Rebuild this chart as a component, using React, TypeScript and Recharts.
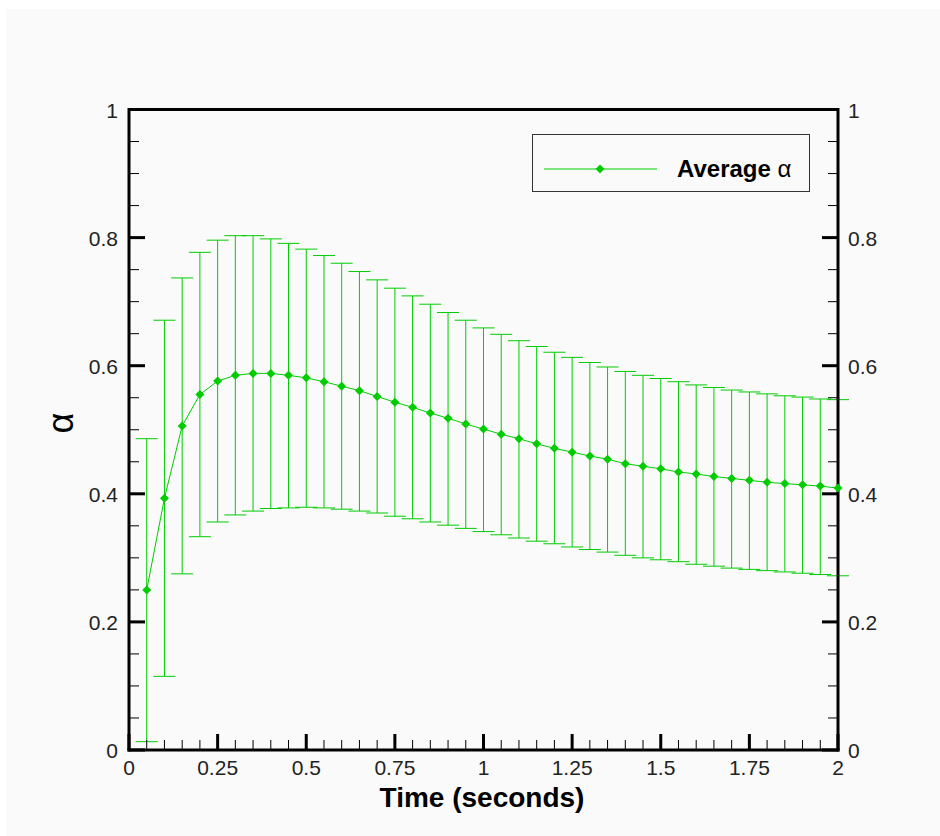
import { ComposedChart, Line, XAxis, YAxis, ErrorBar, ReferenceLine, Legend } from 'recharts';

// time in seconds
const times = [
  0.05, 0.1, 0.15, 0.2, 0.25, 0.3, 0.35, 0.4, 0.45, 0.5,
  0.55, 0.6, 0.65, 0.7, 0.75, 0.8, 0.85, 0.9, 0.95, 1.0,
  1.05, 1.1, 1.15, 1.2, 1.25, 1.3, 1.35, 1.4, 1.45, 1.5,
  1.55, 1.6, 1.65, 1.7, 1.75, 1.8, 1.85, 1.9, 1.95, 2.0,
];

const avgAlpha = [
  0.25, 0.393, 0.506, 0.555, 0.576, 0.585, 0.588, 0.588, 0.585, 0.581,
  0.575, 0.568, 0.561, 0.552, 0.543, 0.535, 0.526, 0.518, 0.509, 0.501,
  0.493, 0.486, 0.478, 0.471, 0.465, 0.459, 0.454, 0.447, 0.443, 0.439,
  0.434, 0.431, 0.427, 0.424, 0.421, 0.418, 0.416, 0.414, 0.412, 0.409,
];

const upperAlpha = [
  0.486, 0.671, 0.737, 0.777, 0.796, 0.803, 0.803, 0.798, 0.791, 0.782,
  0.772, 0.76, 0.747, 0.734, 0.721, 0.709, 0.696, 0.683, 0.671, 0.659,
  0.649, 0.639, 0.63, 0.621, 0.613, 0.605, 0.598, 0.591, 0.585, 0.58,
  0.575, 0.57, 0.566, 0.562, 0.559, 0.556, 0.553, 0.551, 0.548, 0.547,
];

const lowerAlpha = [
  0.013, 0.115, 0.275, 0.333, 0.356, 0.367, 0.373, 0.377, 0.378, 0.379,
  0.378, 0.376, 0.373, 0.37, 0.365, 0.361, 0.356, 0.351, 0.346, 0.341,
  0.336, 0.331, 0.326, 0.322, 0.317, 0.313, 0.309, 0.304, 0.3, 0.297,
  0.294, 0.29, 0.287, 0.284, 0.282, 0.28, 0.278, 0.276, 0.274, 0.272,
];

const xMajorTicks = [0, 0.25, 0.5, 0.75, 1, 1.25, 1.5, 1.75, 2];
const xAllTicks = [
  0, 0.05, 0.1, 0.15, 0.2, 0.25, 0.3, 0.35, 0.4, 0.45, 0.5,
  0.55, 0.6, 0.65, 0.7, 0.75, 0.8, 0.85, 0.9, 0.95, 1,
  1.05, 1.1, 1.15, 1.2, 1.25, 1.3, 1.35, 1.4, 1.45, 1.5,
  1.55, 1.6, 1.65, 1.7, 1.75, 1.8, 1.85, 1.9, 1.95, 2,
];
const yMajorTicks = [0, 0.2, 0.4, 0.6, 0.8, 1];
const yAllTicks = [
  0, 0.05, 0.1, 0.15, 0.2, 0.25, 0.3, 0.35, 0.4, 0.45, 0.5,
  0.55, 0.6, 0.65, 0.7, 0.75, 0.8, 0.85, 0.9, 0.95, 1,
];

const GREEN = '#00cc00';
const FONT = '"Liberation Sans", Arial, Helvetica, sans-serif';
const TICK = '#000';

// plot frame (follows from the chart margins and axis sizes below)
const AXIS_LEFT = 129;
const AXIS_RIGHT = 838;
const AXIS_BOTTOM = 750;

const data = times.map((t, i) => ({
  t,
  avg: avgAlpha[i],
  err: [avgAlpha[i] - lowerAlpha[i], upperAlpha[i] - avgAlpha[i]],
}));

const isMajor = (list: number[], v: number) => list.some(m => Math.abs(m - v) < 1e-6);

function BottomTick(props: any) {
  const { x, payload } = props;
  const major = isMajor(xMajorTicks, payload.value);
  const y = AXIS_BOTTOM;
  return (
    <g>
      <path d={`M${x},${y}V${y - (major ? 16 : 10)}`} stroke={TICK} strokeWidth={major ? 3 : 1} fill="none" />
      {major && (
        <text x={x} y={y + 25} textAnchor="middle" fontSize={21} fontFamily={FONT} fill="#222">
          {String(payload.value)}
        </text>
      )}
    </g>
  );
}

function LeftTick(props: any) {
  const { y, payload } = props;
  const major = isMajor(yMajorTicks, payload.value);
  const x = AXIS_LEFT;
  return (
    <g>
      <path d={`M${x},${y}H${x + (major ? 16 : 10)}`} stroke={TICK} strokeWidth={major ? 3 : 1} fill="none" />
      {major && (
        <text x={x - 11} y={y + 8} textAnchor="end" fontSize={21} fontFamily={FONT} fill="#222">
          {String(payload.value)}
        </text>
      )}
    </g>
  );
}

function RightTick(props: any) {
  const { y, payload } = props;
  const major = isMajor(yMajorTicks, payload.value);
  const x = AXIS_RIGHT;
  return (
    <g>
      <path d={`M${x},${y}H${x - (major ? 16 : 10)}`} stroke={TICK} strokeWidth={major ? 3 : 1} fill="none" />
      {major && (
        <text x={x + 10} y={y + 8} textAnchor="start" fontSize={21} fontFamily={FONT} fill="#222">
          {String(payload.value)}
        </text>
      )}
    </g>
  );
}

function XTitle() {
  return (
    <text x={482} y={807} textAnchor="middle" fontSize={28} fontWeight="bold" fontFamily={FONT} fill="#000">
      Time (seconds)
    </text>
  );
}

function YTitle() {
  return (
    <text x={73} y={423} transform="rotate(-90, 73, 423)" textAnchor="middle" fontSize={36} fontFamily={FONT} fill="#000">
      α
    </text>
  );
}

function Diamond(props: any) {
  const { cx, cy, index } = props;
  if (cx == null || cy == null) return <g key={index} />;
  return <path key={index} d={`M${cx},${cy - 4.5}L${cx + 4.5},${cy}L${cx},${cy + 4.5}L${cx - 4.5},${cy}Z`} fill={GREEN} />;
}

function LegendBox() {
  return (
    <svg width={280} height={60} style={{ display: 'block' }}>
      <rect x={1.5} y={1.5} width={277} height={57} fill="#fafafa" stroke="#333" strokeWidth={1} />
      <line x1={13} x2={126} y1={36} y2={36} stroke={GREEN} strokeWidth={1} />
      <path d="M69,31.5L73.5,36L69,40.5L64.5,36Z" fill={GREEN} />
      <text x={146} y={44} fontSize={24} fontFamily={FONT} fill="#000">
        <tspan fontWeight="bold">Average</tspan>
        <tspan> α</tspan>
      </text>
    </svg>
  );
}

export default function App() {
  return (
    <div style={{ position: 'absolute', left: 0, top: 0, width: 940, height: 836, background: '#fff' }}>
      <div style={{ position: 'absolute', left: 6, top: 9, right: 0, bottom: 0, background: '#fafafa' }} />
      <div style={{ position: 'absolute', left: 0, top: 0 }}>
        <ComposedChart width={940} height={836} data={data} margin={{ top: 109.5, right: 42, bottom: 26, left: 59 }}>
          <XAxis
            dataKey="t"
            type="number"
            domain={[0, 2]}
            ticks={xAllTicks}
            interval={0}
            height={60}
            tickSize={0}
            tickMargin={0}
            tickLine={false}
            axisLine={{ stroke: '#000', strokeWidth: 3, strokeLinecap: 'square' }}
            tick={(p: any) => <BottomTick {...p} />}
            label={<XTitle />}
          />
          <YAxis
            yAxisId="left"
            type="number"
            domain={[0, 1]}
            ticks={yAllTicks}
            interval={0}
            width={70}
            tickSize={0}
            tickMargin={0}
            tickLine={false}
            axisLine={{ stroke: '#000', strokeWidth: 3, strokeLinecap: 'square' }}
            tick={(p: any) => <LeftTick {...p} />}
            label={<YTitle />}
          />
          <YAxis
            yAxisId="right"
            orientation="right"
            type="number"
            domain={[0, 1]}
            ticks={yAllTicks}
            interval={0}
            width={60}
            tickSize={0}
            tickMargin={0}
            tickLine={false}
            axisLine={{ stroke: '#000', strokeWidth: 3, strokeLinecap: 'square' }}
            tick={(p: any) => <RightTick {...p} />}
          />
          <ReferenceLine yAxisId="left" y={1} stroke="#000" strokeWidth={3} />
          <Legend
            layout="vertical"
            align="center"
            verticalAlign="middle"
            wrapperStyle={{ left: 531, top: 133, width: 280, height: 60 }}
            content={() => <LegendBox />}
          />
          {/* hidden copy so the right-hand axis has a series and draws its ticks */}
          <Line
            yAxisId="right"
            dataKey="avg"
            stroke="none"
            dot={false}
            activeDot={false}
            legendType="none"
            isAnimationActive={false}
          />
          <Line
            yAxisId="left"
            dataKey="avg"
            type="linear"
            stroke={GREEN}
            strokeWidth={1}
            dot={(p: any) => <Diamond {...p} key={p.index} />}
            activeDot={false}
            isAnimationActive={false}
          >
            <ErrorBar dataKey="err" direction="y" width={11} stroke={GREEN} strokeWidth={1} isAnimationActive={false} />
          </Line>
        </ComposedChart>
      </div>
    </div>
  );
}
